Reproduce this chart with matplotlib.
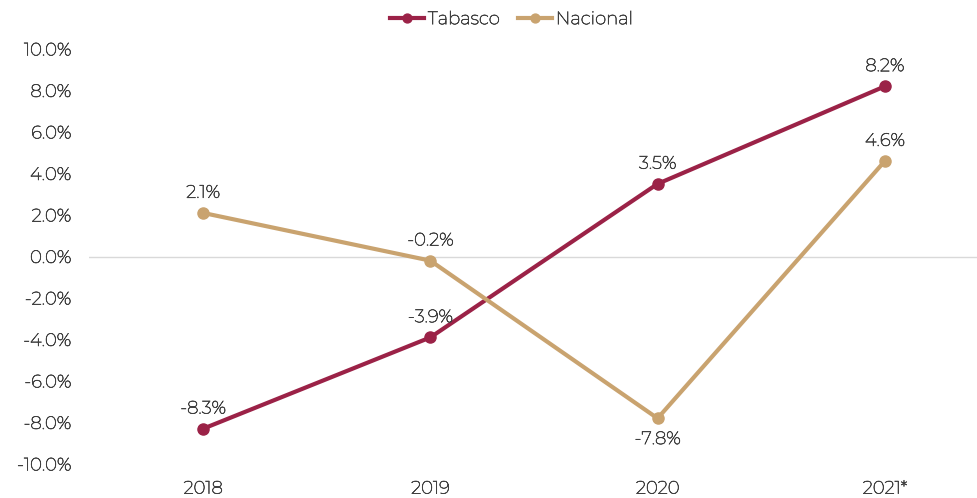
import matplotlib
matplotlib.use("Agg")
import matplotlib.pyplot as plt
from matplotlib.ticker import FuncFormatter
import matplotlib.patheffects as pe

years = ["2018", "2019", "2020", "2021*"]
tabasco = [-8.3, -3.9, 3.5, 8.2]
nacional = [2.1, -0.2, -7.8, 4.6]
nacional_label_pos = ["above", "above", "below", "above"]
tabasco_label_pos = ["above", "above", "above", "above"]

c_tab = "#9B2247"
c_nac = "#C9A36F"
txt = "#404040"
fs = 13
plt.rcParams['font.family'] = ['Montserrat', 'Open Sans', 'DejaVu Sans']
thick = [pe.withStroke(linewidth=0.45, foreground=txt)]

fig = plt.figure(figsize=(9.78, 4.98), dpi=100)
ax = fig.add_axes([89/978, 34/498, (978-89)/978, (464-49)/498])
x = list(range(len(years)))

ax.plot(x, tabasco, color=c_tab, lw=3, marker='o', ms=8, label="Tabasco", zorder=3)
ax.plot(x, nacional, color=c_nac, lw=3, marker='o', ms=8, label="Nacional", zorder=3)

for xi, v, p in zip(x, tabasco, tabasco_label_pos):
    off = 14.5 if p == "above" else -15
    ax.annotate(f"{v:.1f}%", (xi, v), xytext=(0, off), textcoords="offset points",
                ha='center', va='center', fontsize=fs, color=txt, path_effects=thick)
for xi, v, p in zip(x, nacional, nacional_label_pos):
    off = 14.5 if p == "above" else -15
    ax.annotate(f"{v:.1f}%", (xi, v), xytext=(0, off), textcoords="offset points",
                ha='center', va='center', fontsize=fs, color=txt, path_effects=thick)

ax.set_ylim(-10, 10)
ax.set_yticks([-10, -8, -6, -4, -2, 0, 2, 4, 6, 8, 10])
ax.yaxis.set_major_formatter(FuncFormatter(lambda v, _: f"{v:.1f}%"))
ax.set_xlim(-0.502, 3.41)
ax.set_xticks(x)
ax.set_xticklabels(years)
ax.axhline(0, color="#D9D9D9", lw=1, zorder=1)
for s in ax.spines.values():
    s.set_visible(False)
ax.tick_params(length=0, labelsize=fs, colors=txt)
ax.tick_params(axis='y', pad=13)
ax.tick_params(axis='x', pad=12)
for lab in ax.get_xticklabels() + ax.get_yticklabels():
    lab.set_path_effects(thick)

leg = fig.legend(loc='upper center', bbox_to_anchor=(0.523, 1.01), ncol=2, frameon=False,
                 fontsize=fs, handlelength=1.9, columnspacing=1.0, handletextpad=0.2,
                 labelcolor=txt, markerscale=0.8)
for t in leg.get_texts():
    t.set_path_effects(thick)

fig.savefig("out.png", dpi=100)
